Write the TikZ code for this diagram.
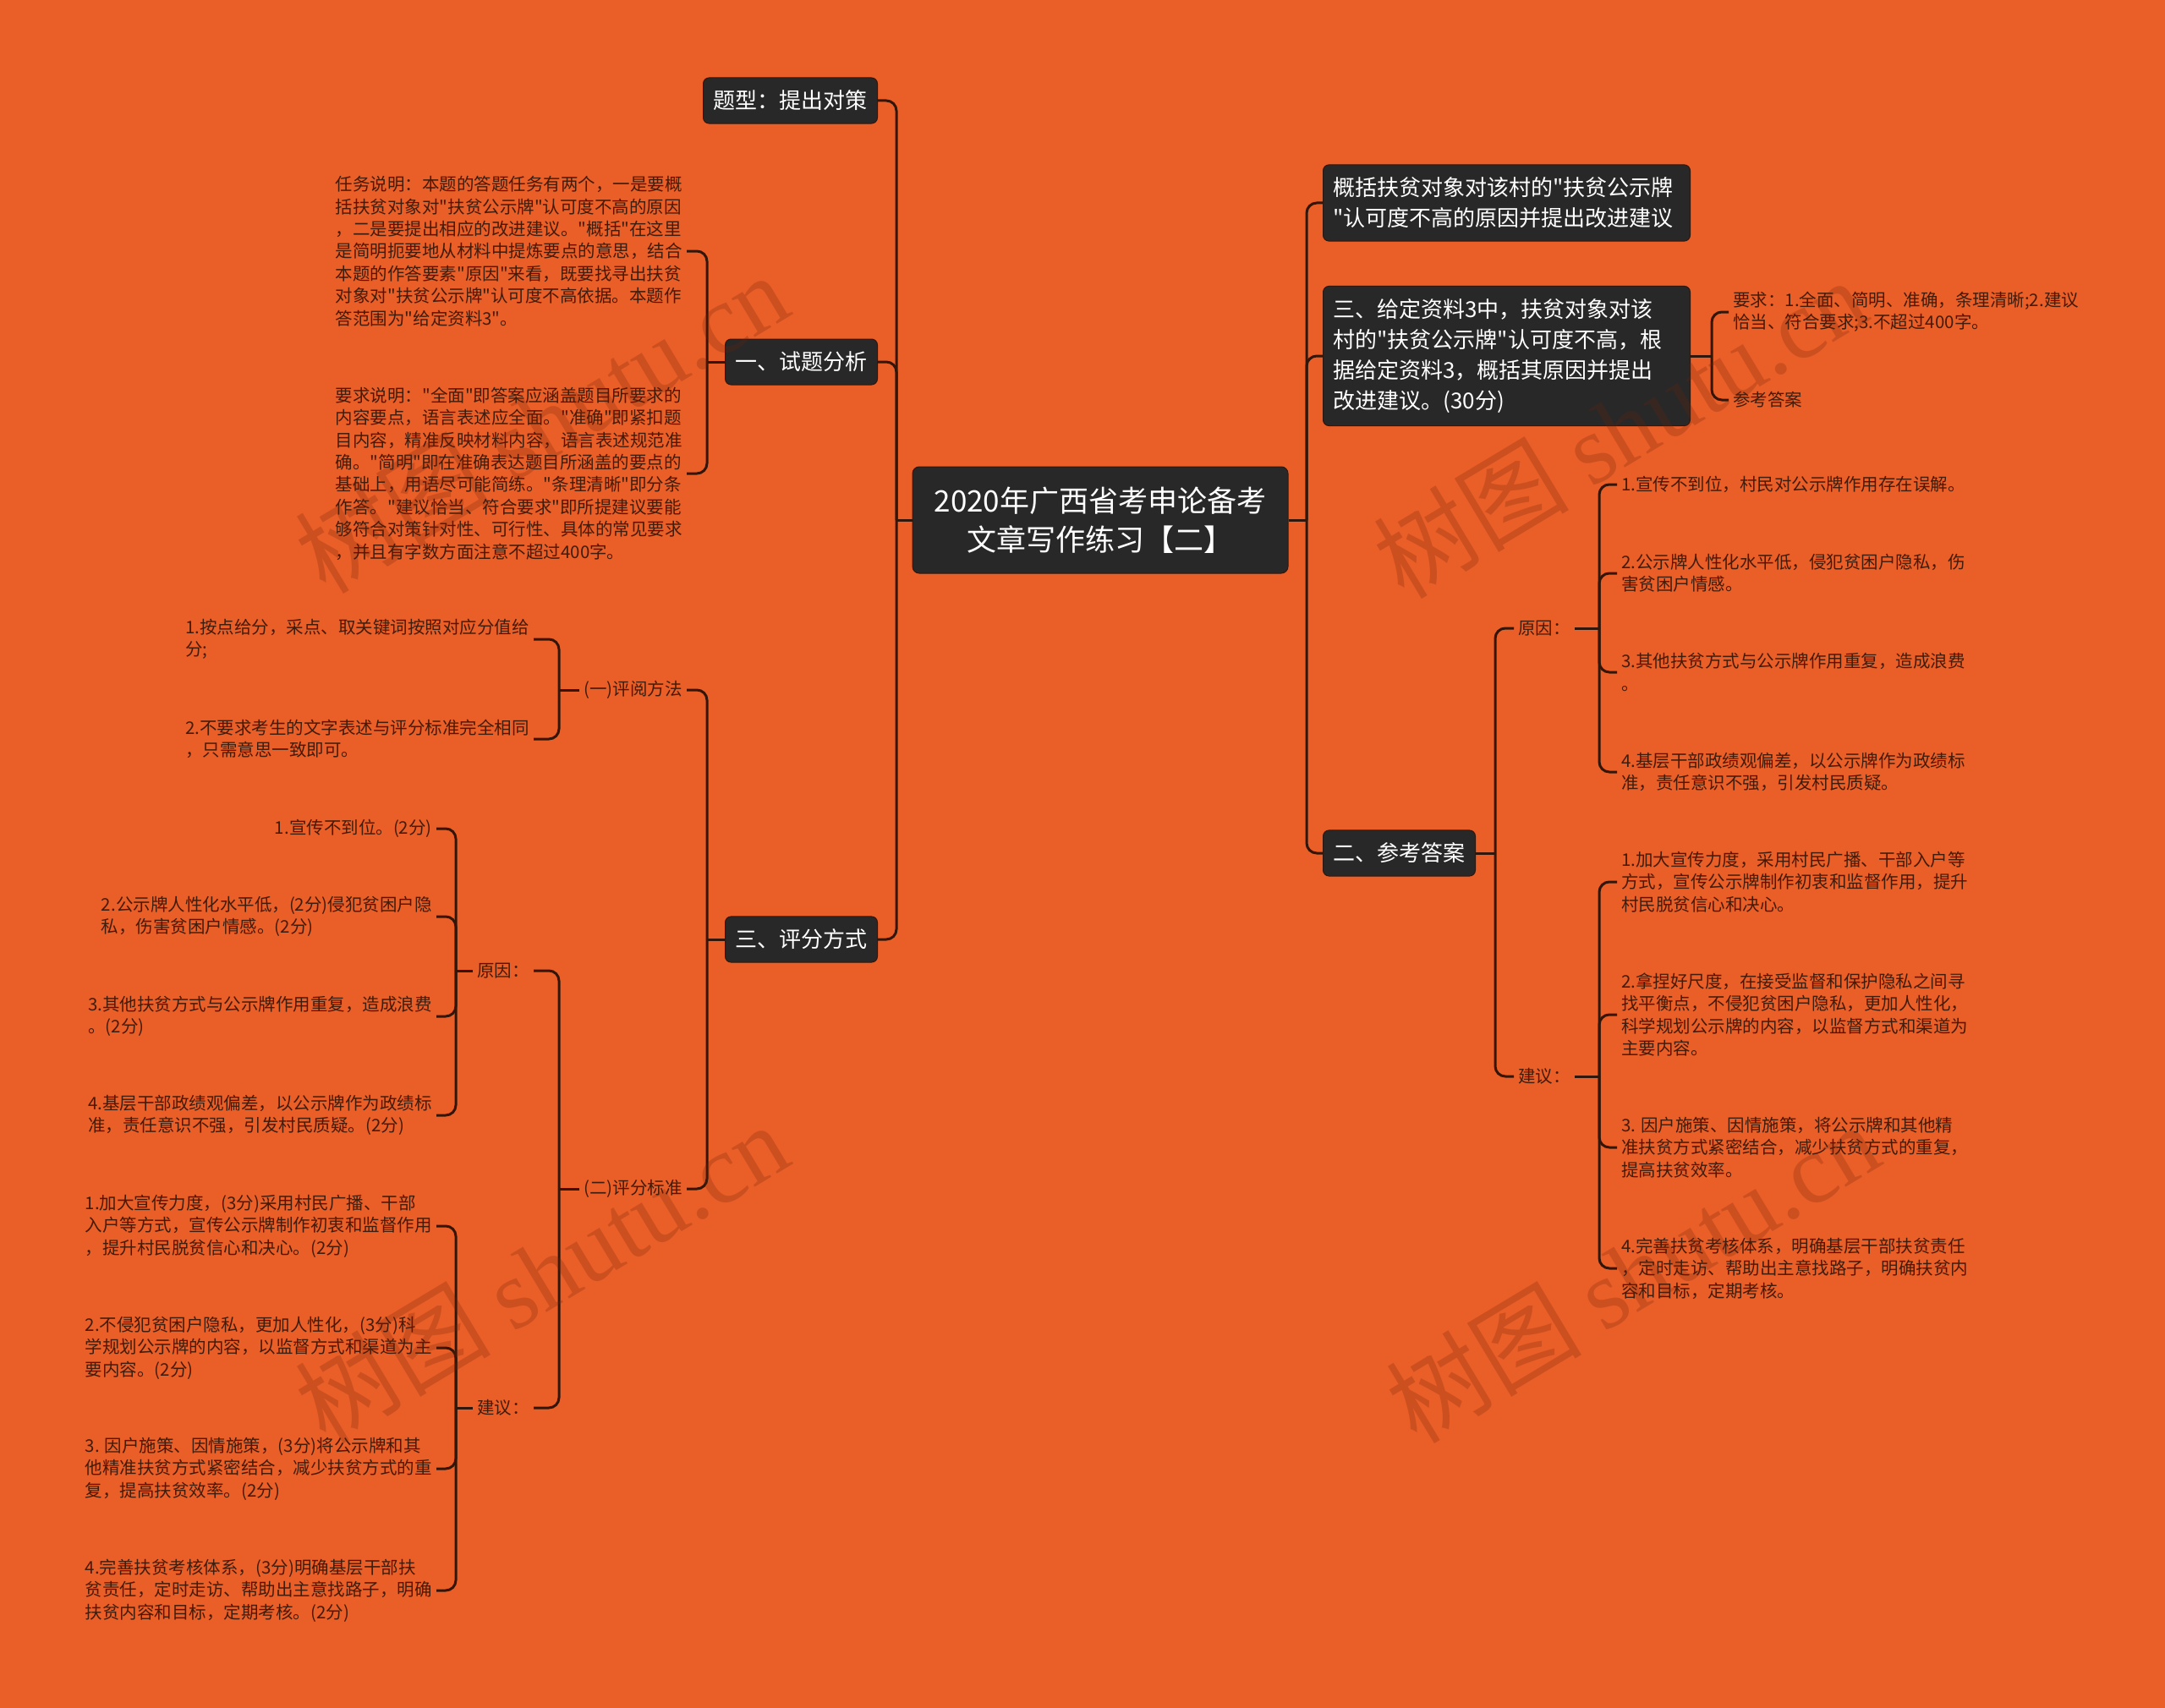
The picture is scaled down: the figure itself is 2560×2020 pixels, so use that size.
\documentclass[tikz,border=0pt]{standalone}
\usepackage{fontspec}
\setmainfont{Noto Sans CJK SC}[Ligatures=TeXOff]
\newfontfamily\wmserif{Liberation Serif}[Ligatures=TeXOff]
\definecolor{bg}{RGB}{234,94,40}
\definecolor{boxc}{RGB}{40,40,40}
\definecolor{lnc}{RGB}{50,22,10}
\definecolor{txc}{RGB}{66,28,10}
\definecolor{wmc}{RGB}{110,35,10}
\tikzset{
  rootbox/.style={fill=boxc, draw=lnc, line width=1pt, rounded corners=8pt, text=white,
    font=\fontsize{35}{46}\selectfont, align=center, inner xsep=14pt, inner ysep=16pt,
    minimum width=444pt, minimum height=126pt},
  lonebox/.style={fill=boxc, draw=lnc, line width=1pt, rounded corners=7pt, text=white,
    font=\fontsize{26}{36}\selectfont, align=left, inner xsep=12pt, inner ysep=15pt},
  leaf/.style={text=txc, font=\fontsize{20.5}{26.4}\selectfont, align=left, inner xsep=5pt, inner ysep=3pt},
  link/.style={draw=lnc, line width=3pt},
  brk/.style={link, rounded corners=12pt},
  wm/.style={text=wmc, text opacity=0.24, font=\fontsize{116}{116}\selectfont, rotate=31}
}
\begin{document}
\begin{tikzpicture}[x=1pt,y=-1pt]
\fill[bg] (0,0) rectangle (2560,2020);
\useasboundingbox (0,0) rectangle (2560,2020);

% root
\node[rootbox] (root) at (1301,615) {2020年广西省考申论备考\\文章写作练习【二】};

% left level 1
\node[lonebox, anchor=east] (tx) at (1038,119) {题型：提出对策};
\node[lonebox, anchor=east] (fx) at (1038,428) {一、试题分析};
\node[lonebox, anchor=east] (pf) at (1038,1111) {三、评分方式};

% right level 1
\node[lonebox, anchor=west, text width=410pt] (gk) at (1564,240) {概括扶贫对象对该村的"扶贫公示牌\\"认可度不高的原因并提出改进建议};
\node[lonebox, anchor=west, text width=410pt] (gd) at (1564,421) {三、给定资料3中，扶贫对象对该\\村的"扶贫公示牌"认可度不高，根\\据给定资料3，概括其原因并提出\\改进建议。(30分)};
\node[lonebox, anchor=west] (ck) at (1564,1009) {二、参考答案};

% left: 一、试题分析 children
\node[leaf, anchor=east] (a1) at (812,297) {任务说明：本题的答题任务有两个，一是要概\\括扶贫对象对"扶贫公示牌"认可度不高的原因\\，二是要提出相应的改进建议。"概括"在这里\\是简明扼要地从材料中提炼要点的意思，结合\\本题的作答要素"原因"来看，既要找寻出扶贫\\对象对"扶贫公示牌"认可度不高依据。本题作\\答范围为"给定资料3"。};
\node[leaf, anchor=east] (a2) at (812,560) {要求说明："全面"即答案应涵盖题目所要求的\\内容要点，语言表述应全面。"准确"即紧扣题\\目内容，精准反映材料内容，语言表述规范准\\确。"简明"即在准确表达题目所涵盖的要点的\\基础上，用语尽可能简练。"条理清晰"即分条\\作答。"建议恰当、符合要求"即所提建议要能\\够符合对策针对性、可行性、具体的常见要求\\，并且有字数方面注意不超过400字。};

% left: 三、评分方式 children
\node[leaf, anchor=east] (b1) at (812,816) {(一)评阅方法};
\node[leaf, anchor=east] (b2) at (812,1406) {(二)评分标准};
\node[leaf, anchor=east] (b1a) at (631,756) {1.按点给分，采点、取关键词按照对应分值给\\分;};
\node[leaf, anchor=east] (b1b) at (631,874) {2.不要求考生的文字表述与评分标准完全相同\\，只需意思一致即可。};
\node[leaf, anchor=east] (c1) at (631,1148) {原因：};
\node[leaf, anchor=east] (c2) at (631,1665) {建议：};

\node[leaf, anchor=east] (c11) at (516,980) {1.宣传不到位。(2分)};
\node[leaf, anchor=east] (c12) at (516,1084) {2.公示牌人性化水平低，(2分)侵犯贫困户隐\\私，伤害贫困户情感。(2分)};
\node[leaf, anchor=east] (c13) at (516,1202) {3.其他扶贫方式与公示牌作用重复，造成浪费\\。(2分)};
\node[leaf, anchor=east] (c14) at (516,1319) {4.基层干部政绩观偏差，以公示牌作为政绩标\\准，责任意识不强，引发村民质疑。(2分)};

\node[leaf, anchor=east] (c21) at (516,1450) {1.加大宣传力度，(3分)采用村民广播、干部\\入户等方式，宣传公示牌制作初衷和监督作用\\，提升村民脱贫信心和决心。(2分)};
\node[leaf, anchor=east] (c22) at (516,1594) {2.不侵犯贫困户隐私，更加人性化，(3分)科\\学规划公示牌的内容，以监督方式和渠道为主\\要内容。(2分)};
\node[leaf, anchor=east] (c23) at (516,1737) {3. 因户施策、因情施策，(3分)将公示牌和其\\他精准扶贫方式紧密结合，减少扶贫方式的重\\复，提高扶贫效率。(2分)};
\node[leaf, anchor=east] (c24) at (516,1881) {4.完善扶贫考核体系，(3分)明确基层干部扶\\贫责任，定时走访、帮助出主意找路子，明确\\扶贫内容和目标，定期考核。(2分)};

% right: 三、给定 children
\node[leaf, anchor=west] (d1) at (2044,369) {要求：1.全面、简明、准确，条理清晰;2.建议\\恰当、符合要求;3.不超过400字。};
\node[leaf, anchor=west] (d2) at (2044,473) {参考答案};

% right: 二、参考答案 children
\node[leaf, anchor=west] (e1) at (1790,743) {原因：};
\node[leaf, anchor=west] (e2) at (1790,1273) {建议：};

\node[leaf, anchor=west] (e11) at (1912,573) {1.宣传不到位，村民对公示牌作用存在误解。};
\node[leaf, anchor=west] (e12) at (1912,678) {2.公示牌人性化水平低，侵犯贫困户隐私，伤\\害贫困户情感。};
\node[leaf, anchor=west] (e13) at (1912,795) {3.其他扶贫方式与公示牌作用重复，造成浪费\\。};
\node[leaf, anchor=west] (e14) at (1912,913) {4.基层干部政绩观偏差，以公示牌作为政绩标\\准，责任意识不强，引发村民质疑。};

\node[leaf, anchor=west] (e21) at (1912,1043) {1.加大宣传力度，采用村民广播、干部入户等\\方式，宣传公示牌制作初衷和监督作用，提升\\村民脱贫信心和决心。};
\node[leaf, anchor=west] (e22) at (1912,1200) {2.拿捏好尺度，在接受监督和保护隐私之间寻\\找平衡点，不侵犯贫困户隐私，更加人性化，\\科学规划公示牌的内容，以监督方式和渠道为\\主要内容。};
\node[leaf, anchor=west] (e23) at (1912,1357) {3. 因户施策、因情施策，将公示牌和其他精\\准扶贫方式紧密结合，减少扶贫方式的重复，\\提高扶贫效率。};
\node[leaf, anchor=west] (e24) at (1912,1500) {4.完善扶贫考核体系，明确基层干部扶贫责任\\，定时走访、帮助出主意找路子，明确扶贫内\\容和目标，定期考核。};

% junction coordinates
\coordinate (lj) at (1060,615);
\coordinate (rj) at (1545,615);
\coordinate (fxj) at (836,428);
\coordinate (pfj) at (836,1111);
\coordinate (b1j) at (661,816);
\coordinate (b2j) at (661,1406);
\coordinate (c1j) at (539,1148);
\coordinate (c2j) at (539,1665);
\coordinate (gdj) at (2024,421);
\coordinate (ckj) at (1768,1009);
\coordinate (e1j) at (1891,743);
\coordinate (e2j) at (1891,1273);

% connectors
\draw[link] (root.west) -- (lj);
\foreach \n in {tx,fx,pf} \draw[brk] (lj) |- (\n.east);
\draw[link] (root.east) -- (rj);
\foreach \n in {gk,gd,ck} \draw[brk] (rj) |- (\n.west);

\draw[link] (fx.west) -- (fxj);
\foreach \n in {a1,a2} \draw[brk] (fxj) |- (\n.east);
\draw[link] (pf.west) -- (pfj);
\foreach \n in {b1,b2} \draw[brk] (pfj) |- (\n.east);
\draw[link] (b1.west) -- (b1j);
\foreach \n in {b1a,b1b} \draw[brk] (b1j) |- (\n.east);
\draw[link] (b2.west) -- (b2j);
\foreach \n in {c1,c2} \draw[brk] (b2j) |- (\n.east);
\draw[link] (c1.west) -- (c1j);
\foreach \n in {c11,c12,c13,c14} \draw[brk] (c1j) |- (\n.east);
\draw[link] (c2.west) -- (c2j);
\foreach \n in {c21,c22,c23,c24} \draw[brk] (c2j) |- (\n.east);

\draw[link] (gd.east) -- (gdj);
\foreach \n in {d1,d2} \draw[brk] (gdj) |- (\n.west);
\draw[link] (ck.east) -- (ckj);
\foreach \n in {e1,e2} \draw[brk] (ckj) |- (\n.west);
\draw[link] (e1.east) -- (e1j);
\foreach \n in {e11,e12,e13,e14} \draw[brk] (e1j) |- (\n.west);
\draw[link] (e2.east) -- (e2j);
\foreach \n in {e21,e22,e23,e24} \draw[brk] (e2j) |- (\n.west);

% watermarks
\node[wm] (w1) at (640,500) {树图 {\wmserif shutu.cn}};
\node[wm] (w2) at (1915,506) {树图 {\wmserif shutu.cn}};
\node[wm] (w3) at (640,1505) {树图 {\wmserif shutu.cn}};
\node[wm] (w4) at (1930,1505) {树图 {\wmserif shutu.cn}};
\end{tikzpicture}
\end{document}
